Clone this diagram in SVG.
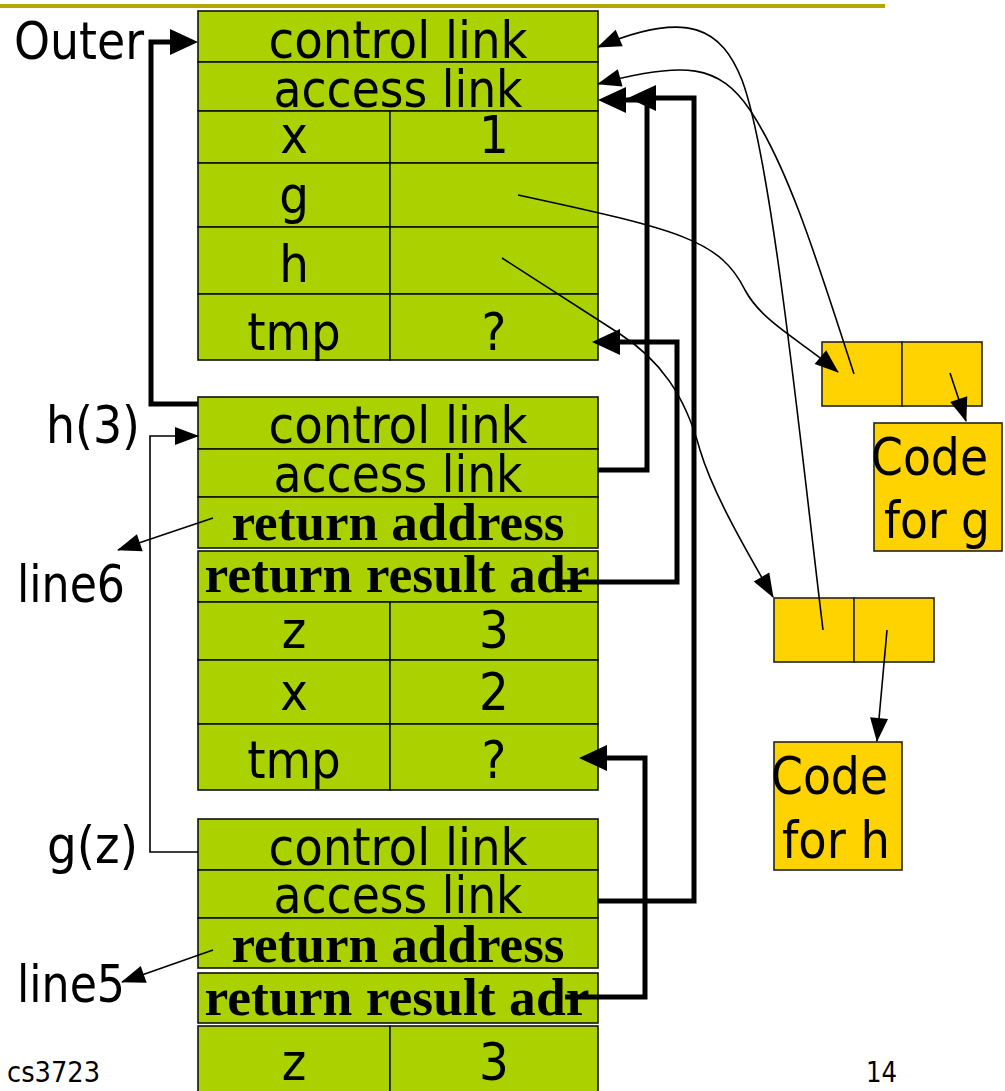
<svg xmlns="http://www.w3.org/2000/svg" width="1005" height="1091" viewBox="0 0 1005 1091">
<style>
.cell{fill:#ABD200;stroke:#111;stroke-width:1.6}
.clo{fill:#FFD300;stroke:#222;stroke-width:1.6}
.t{font-family:"DejaVu Sans Condensed","DejaVu Sans",sans-serif;font-size:52px;fill:#000}
.c{text-anchor:middle}
.b{font-family:"Liberation Serif","Times New Roman",serif;font-weight:bold;font-size:52px;fill:#000;text-anchor:middle}
.s{font-family:"DejaVu Sans Condensed","DejaVu Sans",sans-serif;font-size:28px;fill:#000}
.thick{fill:none;stroke:#000;stroke-width:5;stroke-linejoin:miter}
.thin{fill:none;stroke:#000;stroke-width:1.6}
</style>
<defs>
<marker id="ak" markerUnits="userSpaceOnUse" markerWidth="28" markerHeight="28" refX="6" refY="14" orient="auto" overflow="visible">
<path d="M0,1 L28,14 L0,27 z" fill="#000"/>
</marker>
<marker id="an" markerUnits="userSpaceOnUse" markerWidth="24" markerHeight="20" refX="23" refY="10" orient="auto" overflow="visible">
<path d="M0,1 L24,10 L0,19 z" fill="#000"/>
</marker>
</defs>
<rect x="0" y="4" width="885" height="4" fill="#B5A700"/>

<g id="outer">
<rect class="cell" x="198" y="11" width="400" height="51"/>
<rect class="cell" x="198" y="62" width="400" height="49"/>
<rect class="cell" x="198" y="111" width="192" height="52"/>
<rect class="cell" x="390" y="111" width="208" height="52"/>
<rect class="cell" x="198" y="163" width="192" height="64"/>
<rect class="cell" x="390" y="163" width="208" height="64"/>
<rect class="cell" x="198" y="227" width="192" height="67"/>
<rect class="cell" x="390" y="227" width="208" height="67"/>
<rect class="cell" x="198" y="294" width="192" height="66"/>
<rect class="cell" x="390" y="294" width="208" height="66"/>
<text class="t c" x="398" y="58" textLength="259" lengthAdjust="spacingAndGlyphs">control link</text>
<text class="t c" x="398" y="107" textLength="249" lengthAdjust="spacingAndGlyphs">access link</text>
<text class="t c" x="294" y="153">x</text>
<text class="t c" x="494" y="153">1</text>
<text class="t c" x="294" y="213">g</text>
<text class="t c" x="294" y="282">h</text>
<text class="t c" x="294" y="350">tmp</text>
<text class="t c" x="494" y="350">?</text>
</g>

<g id="frame-h3">
<rect class="cell" x="198" y="397" width="400" height="52"/>
<rect class="cell" x="198" y="449" width="400" height="48"/>
<rect class="cell" x="198" y="497" width="400" height="51"/>
<rect class="cell" x="198" y="551" width="400" height="51"/>
<rect class="cell" x="198" y="602" width="192" height="58"/>
<rect class="cell" x="390" y="602" width="208" height="58"/>
<rect class="cell" x="198" y="660" width="192" height="64"/>
<rect class="cell" x="390" y="660" width="208" height="64"/>
<rect class="cell" x="198" y="724" width="192" height="66"/>
<rect class="cell" x="390" y="724" width="208" height="66"/>
<text class="t c" x="398" y="443" textLength="259" lengthAdjust="spacingAndGlyphs">control link</text>
<text class="t c" x="398" y="492" textLength="249" lengthAdjust="spacingAndGlyphs">access link</text>
<text class="b" x="398" y="540" textLength="333" lengthAdjust="spacingAndGlyphs">return address</text>
<text class="b" x="397" y="592" textLength="385" lengthAdjust="spacingAndGlyphs">return result adr</text>
<text class="t c" x="294" y="648">z</text>
<text class="t c" x="494" y="648">3</text>
<text class="t c" x="294" y="710">x</text>
<text class="t c" x="494" y="710">2</text>
<text class="t c" x="294" y="778">tmp</text>
<text class="t c" x="494" y="778">?</text>
</g>

<g id="frame-gz">
<rect class="cell" x="198" y="819" width="400" height="51"/>
<rect class="cell" x="198" y="870" width="400" height="48"/>
<rect class="cell" x="198" y="918" width="400" height="50"/>
<rect class="cell" x="198" y="973" width="400" height="50"/>
<rect class="cell" x="198" y="1026" width="192" height="70"/>
<rect class="cell" x="390" y="1026" width="208" height="70"/>
<text class="t c" x="398" y="865" textLength="259" lengthAdjust="spacingAndGlyphs">control link</text>
<text class="t c" x="398" y="913" textLength="249" lengthAdjust="spacingAndGlyphs">access link</text>
<text class="b" x="398" y="962" textLength="333" lengthAdjust="spacingAndGlyphs">return address</text>
<text class="b" x="397" y="1015" textLength="385" lengthAdjust="spacingAndGlyphs">return result adr</text>
<text class="t c" x="294" y="1080">z</text>
<text class="t c" x="494" y="1080">3</text>
</g>

<g id="closure-g">
<rect class="clo" x="822" y="342" width="80" height="64"/>
<rect class="clo" x="902" y="342" width="80" height="64"/>
</g>
<g id="code-g">
<rect class="clo" x="874" y="423" width="128" height="128"/>
<text class="t" x="871" y="475" textLength="117" lengthAdjust="spacingAndGlyphs">Code</text>
<text class="t" x="884" y="538" textLength="106" lengthAdjust="spacingAndGlyphs">for g</text>
</g>
<g id="closure-h">
<rect class="clo" x="774" y="598" width="80" height="64"/>
<rect class="clo" x="854" y="598" width="80" height="64"/>
</g>
<g id="code-h">
<rect class="clo" x="774" y="742" width="128" height="128"/>
<text class="t" x="771" y="794" textLength="117" lengthAdjust="spacingAndGlyphs">Code</text>
<text class="t" x="782" y="858" textLength="108" lengthAdjust="spacingAndGlyphs">for h</text>
</g>

<g id="labels">
<text class="t" x="14" y="59" textLength="130" lengthAdjust="spacingAndGlyphs">Outer</text>
<text class="t" x="46" y="443" textLength="94" lengthAdjust="spacingAndGlyphs">h(3)</text>
<text class="t" x="17" y="602" textLength="108" lengthAdjust="spacingAndGlyphs">line6</text>
<text class="t" x="47" y="863" textLength="91" lengthAdjust="spacingAndGlyphs">g(z)</text>
<text class="t" x="17" y="1002" textLength="108" lengthAdjust="spacingAndGlyphs">line5</text>
<text class="s" x="7" y="1082" textLength="93" lengthAdjust="spacingAndGlyphs">cs3723</text>
<text class="s" x="866" y="1082" textLength="31" lengthAdjust="spacingAndGlyphs">14</text>
</g>

<g id="connectors">
<path class="thick" d="M198,404 H151 V42 H176" marker-end="url(#ak)"/>
<path class="thick" d="M598,470 H647 V100 H620" marker-end="url(#ak)"/>
<path class="thick" d="M598,901 H694 V98 H650" marker-end="url(#ak)"/>
<path class="thick" d="M560,582 H677 V342 H614" marker-end="url(#ak)"/>
<path class="thick" d="M565,997 H645 V758 H601" marker-end="url(#ak)"/>
<path class="thin" d="M198,852 H150 V436 H198" marker-end="url(#an)"/>
<path class="thin" d="M213,518 L118,550" marker-end="url(#an)"/>
<path class="thin" d="M213,950 L122,982" marker-end="url(#an)"/>
<path class="thin" d="M823,630 C800,440 772,160 742,80 C722,30 690,8 598,47" marker-end="url(#an)"/>
<path class="thin" d="M854,374 C820,270 790,170 750,110 C720,65 685,60 598,84" marker-end="url(#an)"/>
<path class="thin" d="M518,195 C680,230 720,240 745,290 C762,322 800,340 838,372" marker-end="url(#an)"/>
<path class="thin" d="M502,258 L620,334 C660,360 685,395 700,450 C712,490 740,540 773,597" marker-end="url(#an)"/>
<path class="thin" d="M950,373 L966,421" marker-end="url(#an)"/>
<path class="thin" d="M887,630 L877,741" marker-end="url(#an)"/>
</g>
</svg>
